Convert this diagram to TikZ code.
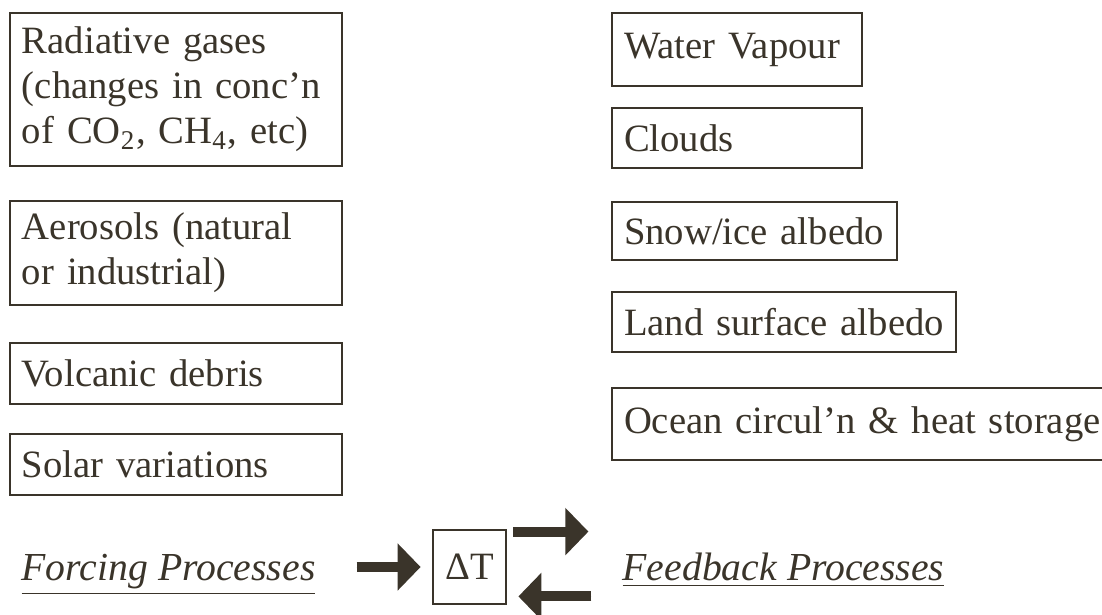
\documentclass[tikz,border=0pt]{standalone}
\usepackage{fontspec}
\setmainfont{Liberation Serif}
\usetikzlibrary{positioning, arrows.meta}

\definecolor{ink}{RGB}{58,52,42}
\newcommand{\boxfont}{\fontsize{11}{12.8}\selectfont}

\tikzset{
	procbox/.style={draw=ink, line width=0.8pt, text=ink, anchor=north west,
		inner xsep=0.12cm, inner ysep=0pt, outer sep=0pt, align=left, font=\boxfont},
	bigarrow/.style={draw=ink, fill=ink, line width=0.1cm,
		-{Triangle[width=0.46cm, length=0.23cm]}},
	proclabel/.style={text=ink, anchor=base west, inner sep=0pt, font=\fontsize{11.3}{13}\selectfont\itshape}
}

\begin{document}
\begin{tikzpicture}
	\useasboundingbox (0,0) rectangle (11.02,-6.15);
	% forcing side
	\node[procbox, text width=3.08cm, minimum height=1.53cm] (rad) at (0.10,-0.13)
		{Radiative gases\\(changes in conc'n\\of CO\textsubscript{2}, CH\textsubscript{4}, etc)};
	\node[procbox, below=0.35cm of rad.south west, anchor=north west,
		text width=3.08cm, minimum height=1.04cm] (aero) {Aerosols (natural\\or industrial)};
	\node[procbox, below=0.38cm of aero.south west, anchor=north west,
		text width=3.08cm, minimum height=0.61cm] (volc) {Volcanic debris};
	\node[procbox, below=0.30cm of volc.south west, anchor=north west,
		text width=3.08cm, minimum height=0.61cm] (solar) {Solar variations};
	% feedback side
	\node[procbox, text width=2.26cm, minimum height=0.73cm] (vap) at (6.12,-0.13) {Water Vapour};
	\node[procbox, below=0.22cm of vap.south west, anchor=north west,
		text width=2.26cm, minimum height=0.60cm] (cloud) {Clouds};
	\node[procbox, below=0.34cm of cloud.south west, anchor=north west,
		text width=2.61cm, minimum height=0.58cm] (snow) {Snow/ice albedo};
	\node[procbox, below=0.32cm of snow.south west, anchor=north west,
		text width=3.20cm, minimum height=0.60cm] (land) {Land surface albedo};
	\node[procbox, below=0.36cm of land.south west, anchor=north west,
		text width=5.20cm, minimum height=0.72cm] (ocean) {Ocean circul'n \& heat storage};
	% bottom row
	\node[proclabel] (force) at (0.21,-5.80) {\underline{Forcing Processes}};
	\node[proclabel] (feed) at (6.22,-5.80) {\underline{Feedback Processes}};
	\node[draw=ink, line width=0.8pt, text=ink, inner sep=0pt, font=\boxfont,
		minimum width=0.73cm, minimum height=0.74cm] (dT) at (4.695,-5.67) {ΔT};
	\draw[bigarrow] ([xshift=-0.75cm]dT.west) -- ([xshift=-0.11cm]dT.west);
	\draw[bigarrow] ([shift={(0.06,-0.03)}]dT.north east) -- ([shift={(0.81,-0.03)}]dT.north east);
	\draw[bigarrow] ([shift={(0.84,0.09)}]dT.south east) -- ([shift={(0.11,0.09)}]dT.south east);
\end{tikzpicture}
\end{document}
